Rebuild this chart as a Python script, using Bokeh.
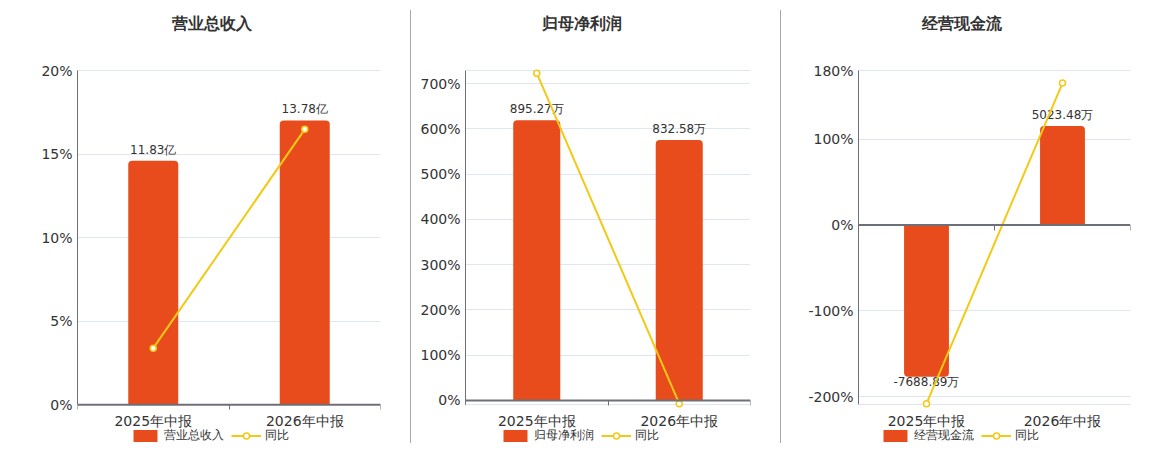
from bokeh.plotting import figure
from bokeh.models import (ColumnDataSource, Range1d, LinearAxis, FixedTicker,
                          PrintfTickFormatter, Legend, LegendItem, Grid, Span, Div)
from bokeh.layouts import row
from bokeh.core.properties import value
from bokeh.embed import file_html
from bokeh.resources import INLINE

# ---------------- data ----------------
categories = ["2025年中报", "2026年中报"]
yoy_name = "同比"

revenue_title = "营业总收入"
revenue_values = [11.83, 13.78]          # 亿
revenue_labels = ["11.83亿", "13.78亿"]
revenue_yoy = [3.39, 16.48]              # %
revenue_ticks = [0, 5, 10, 15, 20]

profit_title = "归母净利润"
profit_values = [895.27, 832.58]         # 万
profit_labels = ["895.27万", "832.58万"]
profit_yoy = [723.0, -7.0]               # %
profit_ticks = [0, 100, 200, 300, 400, 500, 600, 700]

cash_title = "经营现金流"
cash_values = [-7688.89, 5023.48]        # 万
cash_labels = ["-7688.89万", "5023.48万"]
cash_yoy = [-208.0, 165.3]               # %
cash_ticks = [-200, -100, 0, 100, 180]

# ---------------- style / layout ----------------
FONT = "DejaVu Sans"
BAR = "#E84C1C"
YEL = "#F2C915"
AXIS = "#6E7079"
TXT = "#333333"
GRID = "#E0E6F1"
H = 444
TOP = 70                     # pixels above the value area (title room)
DATA_PX = 334.3              # height of the value area
EXT_TOP = TOP / DATA_PX
EXT_BOT = (H - TOP - DATA_PX) / DATA_PX


def panel(title, name, values, labels, yoy, ticks, y_rng, bar_k, width,
          left, right, title_offset, legend_x):
    n = len(categories)
    y_lo, y_hi = y_rng
    span = y_hi - y_lo
    y_lo_ext = y_lo - EXT_BOT * span
    y_hi_ext = y_hi + EXT_TOP * span
    p = figure(width=width, height=H, x_range=Range1d(0, n),
               y_range=Range1d(y_lo_ext, y_hi_ext), output_backend="svg",
               toolbar_location=None, min_border_left=left,
               min_border_right=right, min_border_top=0,
               min_border_bottom=0, x_axis_location=None,
               y_axis_location=None, outline_line_color=None)
    p.title.text = ""
    p.center = [r for r in p.center if not isinstance(r, Grid)]
    p.extra_y_ranges = {"bar": Range1d(y_lo_ext * bar_k, y_hi_ext * bar_k)}

    grid = Grid(dimension=1, ticker=FixedTicker(ticks=list(ticks) + [y_lo, y_hi]),
                grid_line_color=GRID, grid_line_width=1)
    p.add_layout(grid, "center")

    yax = LinearAxis(ticker=FixedTicker(ticks=ticks), bounds=(y_lo, y_hi),
                     formatter=PrintfTickFormatter(format="%d%%"),
                     major_tick_out=0, major_tick_in=0, minor_tick_out=0,
                     minor_tick_in=0, axis_line_color=AXIS,
                     major_label_text_color=TXT,
                     major_label_text_font=FONT,
                     major_label_text_font_size="14px",
                     major_label_standoff=5)
    p.add_layout(yax, "left")

    # zero line with category boundary ticks
    p.add_layout(Span(location=0, dimension="width", line_color=AXIS, line_width=2))
    zax = LinearAxis(ticker=FixedTicker(ticks=list(range(n + 1))),
                     fixed_location=0, axis_line_color=None,
                     major_tick_line_color=AXIS, major_tick_line_width=1,
                     major_tick_in=5, major_tick_out=0,
                     minor_tick_out=0, minor_tick_in=0,
                     major_label_text_color=None,
                     major_label_text_font_size="1px",
                     major_label_standoff=0)
    p.add_layout(zax, "above")

    # panel title, placed above the value area
    p.text(x=[0], y=[y_hi], text=[title], x_offset=title_offset, y_offset=-47,
           text_align="left", text_baseline="middle", text_font=value(FONT),
           text_font_size="16px", text_font_style="bold", text_color=TXT)

    centers = [i + 0.5 for i in range(n)]
    # category labels under the value area
    p.text(x=centers, y=[y_lo] * n, text=categories, text_align="center",
           text_baseline="middle", y_offset=16, text_font=value(FONT),
           text_font_size="14px", text_color=TXT)

    pos = [i for i, v in enumerate(values) if v >= 0]
    neg = [i for i, v in enumerate(values) if v < 0]
    bar_r = None
    if pos:
        src = ColumnDataSource(dict(x=[centers[i] for i in pos],
                                    top=[values[i] for i in pos],
                                    label=[labels[i] for i in pos]))
        r = p.vbar(x="x", top="top", bottom=0, width=0.33, source=src,
                   y_range_name="bar", fill_color=BAR, line_color=None,
                   border_radius=(4, 4, 0, 0))
        bar_r = bar_r or r
        p.text(x="x", y="top", text="label", source=src, y_range_name="bar",
               text_align="center", text_baseline="bottom", y_offset=-4,
               text_font=value(FONT), text_font_size="12px", text_color=TXT)
    if neg:
        src = ColumnDataSource(dict(x=[centers[i] for i in neg],
                                    bottom=[values[i] for i in neg],
                                    label=[labels[i] for i in neg]))
        r = p.vbar(x="x", top=0, bottom="bottom", width=0.33, source=src,
                   y_range_name="bar", fill_color=BAR, line_color=None,
                   border_radius=(0, 0, 4, 4))
        bar_r = bar_r or r
        p.text(x="x", y="bottom", text="label", source=src, y_range_name="bar",
               text_align="center", text_baseline="top", y_offset=-2,
               text_font=value(FONT), text_font_size="12px", text_color=TXT)

    line_r = p.line(x=centers, y=yoy, line_color=YEL, line_width=2)
    dot_r = p.scatter(x=centers, y=yoy, size=6, fill_color="white",
                      line_color=YEL, line_width=1.5)

    legend = Legend(items=[LegendItem(label=name, renderers=[bar_r]),
                           LegendItem(label=yoy_name, renderers=[line_r, dot_r])],
                    orientation="horizontal", location=(legend_x, 0),
                    glyph_width=30, glyph_height=15, label_text_font=FONT,
                    label_text_font_size="12px", label_text_color=TXT,
                    label_standoff=4, spacing=7, padding=0, margin=0,
                    border_line_color=None, background_fill_alpha=0)
    p.add_layout(legend, "center")
    return p


p1 = panel(revenue_title, revenue_title, revenue_values, revenue_labels,
           revenue_yoy, revenue_ticks, (0, 20), 0.81, 410, 77, 30, 94, 53)
p2 = panel(profit_title, profit_title, profit_values, profit_labels,
           profit_yoy, profit_ticks, (-9.5, 729), 1.4463, 369, 54, 30, 76, 35)
p3 = panel(cash_title, cash_title, cash_values, cash_labels,
           cash_yoy, cash_ticks, (-209.3, 180), 43.5, 363, 77, 14, 63, 22)


def sep():
    return Div(width=1, height=433, margin=(10, 0, 0, 0),
               styles={"background-color": "#a8a8a8"})


layout = row(p1, sep(), p2, sep(), p3)

open("out.html", "w").write(file_html(layout, INLINE))
